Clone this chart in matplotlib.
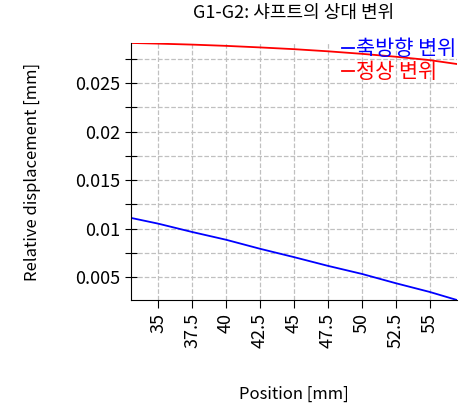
import matplotlib.pyplot as plt
from matplotlib.ticker import MultipleLocator, FuncFormatter

plt.rcParams['font.family'] = ['Noto Sans CJK KR', 'DejaVu Sans']

position = [33, 35, 37.5, 40, 42.5, 45, 47.5, 50, 52.5, 55, 57]
axial = [0.01111, 0.01052, 0.00966, 0.00886, 0.00793, 0.00707,
         0.00617, 0.00534, 0.00438, 0.00348, 0.00265]
radial = [0.02914, 0.02907, 0.02897, 0.02884, 0.02868, 0.02850,
          0.02828, 0.02802, 0.02772, 0.02737, 0.02697]

fig = plt.figure(figsize=(4.72, 4.13), dpi=100)
ax = fig.add_axes([0.2775, 0.2736, 0.6905, 0.6224])

ax.plot(position, axial, color='#0000ff', lw=1.3, label='축방향 변위')
ax.plot(position, radial, color='#ff0000', lw=1.3, label='정상 변위')

ax.set_xlim(33, 57)
ax.set_ylim(0.00265, 0.02914)
ax.xaxis.set_major_locator(MultipleLocator(2.5))
ax.yaxis.set_major_locator(MultipleLocator(0.0025))
ax.xaxis.set_major_formatter(FuncFormatter(lambda v, p: '%g' % v))
ax.yaxis.set_major_formatter(
    FuncFormatter(lambda v, p: '%g' % round(v, 4) if abs(round(v / 0.005) * 0.005 - v) < 1e-7 else ''))

ax.grid(True, color='#c0c0c0', linestyle='--', linewidth=0.9)
for s in ['top', 'right']:
    ax.spines[s].set_visible(False)
ax.tick_params(axis='y', direction='inout', length=8, labelsize=13)
ax.tick_params(axis='x', direction='out', length=6, labelsize=13, labelrotation=90)

ax.set_title('G1-G2: 샤프트의 상대 변위', fontsize=13, pad=18)
ax.set_xlabel('Position [mm]', fontsize=12)
ax.set_ylabel('Relative displacement [mm]', fontsize=12)
ax.xaxis.set_label_coords(0.5, -0.335)
ax.yaxis.set_label_coords(-0.275, 0.5)

leg = ax.legend(loc='upper right', bbox_to_anchor=(1.025, 1.05), frameon=False,
                fontsize=15, handlelength=0.6, handletextpad=0.1,
                labelspacing=0.05, borderaxespad=0)
for t, l in zip(leg.get_texts(), leg.get_lines()):
    t.set_color(l.get_color())

fig.savefig('out.png', dpi=100)
